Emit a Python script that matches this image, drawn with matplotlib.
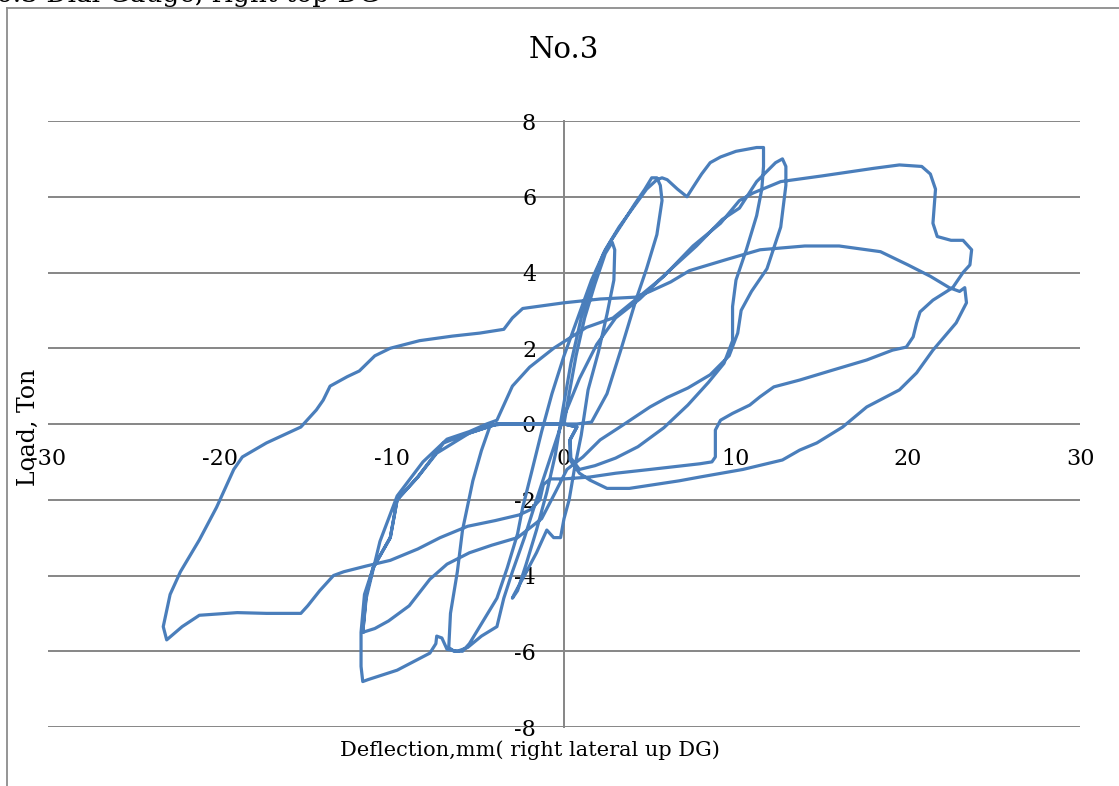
import numpy as np
import matplotlib.pyplot as plt
from matplotlib.lines import Line2D

plt.rcParams['font.family'] = 'DejaVu Serif'
plt.rcParams['axes.unicode_minus'] = False

# deflection (mm) / load (ton), cycle by cycle
c1_x = [0, 0.3, 0.7, 1.2, 1.8, 2.4, 2.8, 2.95, 2.9, 2.5, 2.0, 1.4, 1.0, 0.6, 0.3, 0.0, -0.2, -0.6, -1.0,
        -1.6, -2.3, -2.9, -3.0, -2.7, -2.2, -1.6, -1.0, -0.5, -0.1, 0.4, 1.0, 1.7, 2.3, 2.75]
c1_y = [0, 0.8, 1.8, 2.8, 3.7, 4.5, 4.8, 4.6, 3.8, 2.9, 1.9, 0.9, -0.3, -1.2, -2.0, -2.5, -3.0, -3.0, -2.8,
        -3.4, -4.0, -4.5, -4.6, -4.4, -3.7, -2.8, -1.8, -0.8, 0.3, 1.6, 2.8, 3.8, 4.5, 4.85]

c2_x = [3.4, 4.1, 4.7, 5.1, 5.4, 5.6, 5.7, 5.4, 4.8, 4.2, 3.3, 2.5, 1.6, 0.75, -1.5, -3.6, -4.3,
        -4.8, -5.3, -5.9, -6.2, -6.6, -6.7, -6.4, -5.9, -5.5, -4.7, -3.9, -3.3, -2.7, -2.4, -1.9, -1.3,
        -0.7, 0.0, 0.8, 1.6, 2.4, 3.2, 4.0, 4.8, 5.4, 5.7]
c2_y = [5.3, 5.8, 6.2, 6.5, 6.5, 6.3, 5.9, 5.0, 4.1, 3.3, 1.95, 0.8, 0.05, 0.0, 0.0, 0.0, -0.05,
        -0.7, -1.5, -2.8, -3.9, -5.0, -5.9, -6.0, -6.0, -5.8, -5.2, -4.6, -3.8, -2.9, -2.2, -1.3, -0.2,
        0.8, 1.8, 2.8, 3.8, 4.6, 5.2, 5.7, 6.2, 6.45, 6.5]

c3_x = [6.0, 6.6, 7.15, 7.5, 8.0, 8.5, 9.1, 10.0, 11.2, 11.6, 11.6, 11.5, 11.2, 10.6, 10.0, 9.8, 9.8, 9.3,
        8.4, 7.2, 5.8, 4.3, 3.0, 1.8, 0.9, 0.4, 0.35, 0.75, 0.0, -2.2, -3.9, -5.5, -7.4, -8.5, -9.7, -10.1,
        -11.1, -11.6, -11.8, -11.8, -11.7, -11.4, -9.7, -7.8, -7.45, -7.4, -7.1, -6.8, -6.2, -5.6, -4.8,
        -3.9, -3.5, -3.0, -2.3, -1.6, -0.8, 0.0, 0.9, 1.9, 3.0, 4.4, 6.0, 7.7, 9.2, 10.2, 11.2, 12.3,
        12.7, 12.9]
c3_y = [6.45, 6.2, 6.0, 6.25, 6.6, 6.9, 7.05, 7.2, 7.3, 7.3, 6.8, 6.2, 5.5, 4.6, 3.8, 3.1, 2.2, 1.6,
        1.1, 0.5, -0.1, -0.6, -0.9, -1.1, -1.2, -0.9, -0.42, -0.08, 0.0, 0.0, 0.0, -0.24, -0.77, -1.4, -2.0, -3.0,
        -3.8, -4.5, -5.5, -6.4, -6.8, -6.75, -6.5, -6.05, -5.8, -5.6, -5.65, -5.95, -6.0, -5.9, -5.6,
        -5.35, -4.6, -3.9, -3.0, -2.0, -0.9, 0.2, 1.2, 2.1, 2.8, 3.3, 4.0, 4.7, 5.4, 5.7, 6.4, 6.9,
        7.0, 6.8]

c4_x = [12.9, 12.6, 11.8, 10.9, 10.3, 10.1, 9.6, 8.5, 7.2, 6.0, 5.0, 3.25, 2.1, 1.1, 0.17, -0.5, -1.3,
        -2.7, -4.2, -5.5, -6.8, -7.8, -9.0, -10.2, -11.0, -11.7, -11.5, -10.7, -9.7, -8.2, -6.8, -5.5,
        -4.5, -3.9, -3.0, -2.0, -0.6, 1.3, 2.85, 4.2, 5.8, 7.5, 9.1, 10.2, 11.0, 12.6, 15.0, 18.0, 19.5,
        20.8, 21.3, 21.6, 21.45, 21.7, 22.5, 23.2, 23.7]
c4_y = [6.3, 5.2, 4.1, 3.5, 3.0, 2.4, 1.8, 1.3, 0.95, 0.7, 0.45, -0.08, -0.42, -0.87, -1.2, -1.8, -2.5,
        -3.0, -3.2, -3.4, -3.7, -4.1, -4.8, -5.2, -5.4, -5.5, -4.6, -3.1, -1.9, -1.0, -0.4, -0.2,
        0.0, 0.1, 1.0, 1.5, 2.0, 2.55, 2.8, 3.3, 3.9, 4.7, 5.3, 5.9, 6.1, 6.4, 6.55, 6.75, 6.84,
        6.8, 6.6, 6.2, 5.3, 4.95, 4.85, 4.85, 4.6]

c5_x = [23.6, 23.2, 22.6, 21.45, 20.7, 20.5, 20.3, 19.9, 19.1, 17.6, 15.6, 13.7, 12.2, 11.4, 10.8, 9.8,
        9.1, 8.8, 8.8, 8.6, 7.9, 5.0, 3.0, 1.5, 0.0, -0.8, -1.2, -1.4, -1.9, -2.6, -4.0, -5.6, -7.2,
        -8.5, -10.1, -11.5, -12.8, -13.4, -14.2, -14.9, -15.3, -17.3, -19.0, -21.2, -22.2, -23.1, -23.3,
        -22.9, -22.3, -21.2, -20.2, -19.2, -18.7, -17.3, -15.3, -14.4, -14.0, -13.6, -12.6, -11.9,
        -11.0, -10.1, -8.4, -6.5, -4.9, -3.5, -3.0, -2.4, 0.0, 2.1, 4.2, 5.0, 6.2, 7.3, 9.5, 11.4,
        14.0, 16.0, 18.4, 20.0, 21.3, 22.4, 23.0, 23.3, 23.4, 22.8, 21.45, 20.5, 19.5, 17.6, 16.2,
        14.7, 13.7, 12.7, 10.4, 7.9, 6.7, 3.8, 2.5, 1.5, 0.9, 0.35, 0.35, 0.75, 0.0, -2.2, -3.9,
        -5.5, -7.0, -8.5, -9.7, -10.1, -11.1, -11.5, -11.7]
c5_y = [4.2, 4.0, 3.6, 3.27, 2.96, 2.67, 2.3, 2.03, 1.95, 1.69, 1.42, 1.16, 0.98, 0.72, 0.5, 0.28,
        0.1, -0.16, -0.87, -1.0, -1.05, -1.2, -1.3, -1.4, -1.45, -1.45, -1.6, -2.0, -2.25, -2.4, -2.55,
        -2.7, -3.0, -3.3, -3.6, -3.75, -3.9, -4.0, -4.4, -4.8, -5.0, -5.0, -4.98, -5.05, -5.35, -5.7,
        -5.35, -4.5, -3.9, -3.06, -2.2, -1.2, -0.87, -0.5, -0.08, 0.37, 0.63, 1.0, 1.25, 1.4, 1.8,
        2.0, 2.2, 2.32, 2.4, 2.5, 2.8, 3.05, 3.2, 3.3, 3.35, 3.5, 3.75, 4.05, 4.35, 4.6, 4.7, 4.7,
        4.55, 4.2, 3.9, 3.6, 3.5, 3.6, 3.2, 2.67, 1.95, 1.35, 0.9, 0.45, -0.08, -0.5, -0.69, -0.95,
        -1.2, -1.4, -1.5, -1.7, -1.7, -1.48, -1.3, -0.95, -0.42, -0.08, 0.0, 0.0, 0.0, -0.24, -0.5,
        -1.4, -2.0, -3.0, -3.8, -4.5, -5.5]

x_ticks = [-30, -20, -10, 0, 10, 20, 30]
y_ticks = [-8, -6, -4, -2, 0, 2, 4, 6, 8]

defl = np.concatenate([c1_x, c2_x, c3_x, c4_x, c5_x])
load = np.concatenate([c1_y, c2_y, c3_y, c4_y, c5_y])

fig = plt.figure(figsize=(11.19, 7.86), dpi=100)
ax = fig.add_axes([48/1119, 59/786, 1032/1119, 606/786])

gray = '#868686'
for yv in y_ticks:
    ax.axhline(yv, color=gray, lw=1.4, zorder=1)

ax.plot(defl, load, color='#4A7EBB', lw=2.3, solid_joinstyle='round', zorder=3)

ax.set_xlim(-30, 30)
ax.set_ylim(-8, 8)
ax.set_xticks(x_ticks)
ax.set_yticks(y_ticks)
ax.spines['left'].set_position(('data', 0))
ax.spines['left'].set_color(gray)
ax.spines['left'].set_linewidth(1.4)
ax.spines['bottom'].set_position(('data', 0))
ax.spines['bottom'].set_visible(False)
ax.spines['top'].set_visible(False)
ax.spines['right'].set_visible(False)
ax.tick_params(axis='x', length=0, pad=17, labelsize=16)
ax.tick_params(axis='y', length=0, pad=20, labelsize=16)

ax.set_title('No.3', fontsize=21, pad=45)
fig.text(530/1119, 1 - 750/786, 'Deflection,mm( right lateral up DG)', fontsize=15,
         ha='center', va='center')
fig.text(28/1119, 1 - 427/786, 'Load, Ton', fontsize=17, rotation=90, ha='center', va='center')
fig.text(-4/1119, 1 - 2/786, '6.3 Dial Gauge, right top DG', fontsize=19, ha='left', va='baseline')

fig.add_artist(Line2D([7/1119, 7/1119], [0, 1 - 8/786], color='#8c8c8c', lw=1.3))
fig.add_artist(Line2D([7/1119, 1], [1 - 8/786, 1 - 8/786], color='#8c8c8c', lw=1.3))

fig.savefig('out.png', dpi=100)
